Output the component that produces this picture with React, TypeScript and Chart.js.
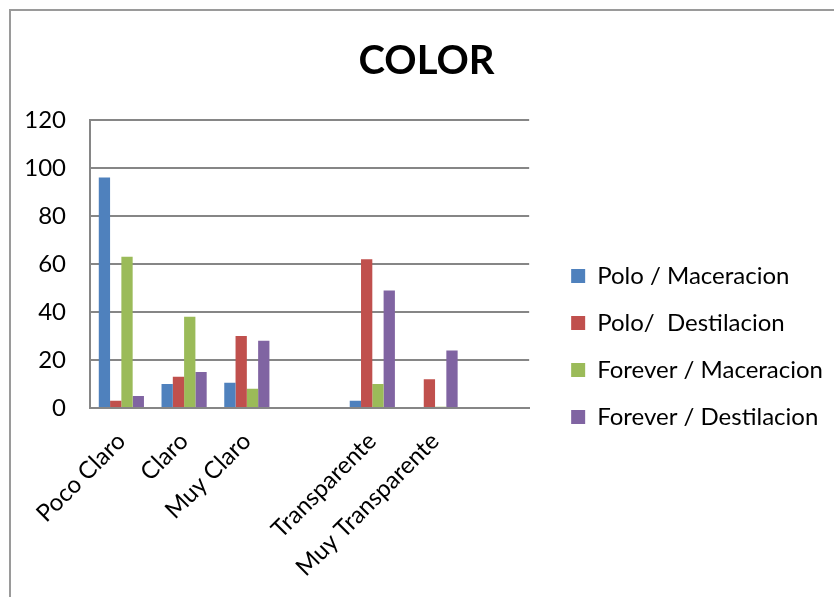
import React, { useEffect, useRef } from 'react';
import { Chart, registerables } from 'chart.js';

Chart.register(...registerables);

const categories = ['Poco Claro', 'Claro', 'Muy Claro', '', 'Transparente', 'Muy Transparente', ''];
const poloMaceracion = [96, 10, 10.5, null, 3, 0, null];
const poloDestilacion = [3, 13, 30, null, 62, 12, null];
const foreverMaceracion = [63, 38, 8, null, 10, 0.5, null];
const foreverDestilacion = [5, 15, 28, null, 49, 24, null];
const seriesNames = ['Polo / Maceracion', 'Polo/  Destilacion', 'Forever / Maceracion', 'Forever / Destilacion'];
const seriesColors = ['#4F81BD', '#C0504D', '#9BBB59', '#8064A2'];
const yMin = 0;
const yMax = 120;
const yStep = 20;
const chartTitle = 'COLOR';

const FONT = 'Lato, "Open Sans", sans-serif';

const framePlugin = {
  id: 'frame',
  beforeDraw(chart: any) {
    const ctx = chart.ctx;
    ctx.save();
    ctx.strokeStyle = '#9a9a9a';
    ctx.lineWidth = 2;
    ctx.beginPath();
    ctx.moveTo(10, chart.height);
    ctx.lineTo(10, 10);
    ctx.lineTo(chart.width, 10);
    ctx.stroke();
    ctx.restore();
  },
};

export default function App() {
  const canvasRef = useRef<HTMLCanvasElement | null>(null);

  useEffect(() => {
    const canvas = canvasRef.current;
    if (!canvas) return;
    const allSeries = [poloMaceracion, poloDestilacion, foreverMaceracion, foreverDestilacion];
    const chart = new Chart(canvas, {
      type: 'bar',
      data: {
        labels: categories,
        datasets: allSeries.map((values, i) => ({
          label: seriesNames[i],
          data: values,
          backgroundColor: seriesColors[i],
          borderWidth: 0,
          categoryPercentage: 0.72,
          barPercentage: 1,
          yAxisID: 'y',
        })),
      },
      options: {
        responsive: false,
        animation: false,
        devicePixelRatio: 1,
        layout: { padding: { left: 20, right: 1, top: 0, bottom: 0 } },
        plugins: {
          tooltip: { enabled: false },
          title: {
            display: true,
            text: chartTitle,
            color: '#000',
            font: { family: FONT, size: 40, weight: 'bold' },
            padding: { top: 37, bottom: 35 },
          },
          legend: {
            position: 'right',
            align: 'center',
            maxWidth: 320,
            title: { display: true, text: ' ', font: { size: 1 }, padding: { top: 95, bottom: 0 } },
            labels: {
              boxWidth: 14,
              boxHeight: 14,
              padding: 23,
              color: '#000',
              font: { family: FONT, size: 24 },
            },
          },
        },
        scales: {
          x: {
            grid: { display: false, drawTicks: false },
            border: { display: true, color: '#868686', width: 2 },
            ticks: {
              autoSkip: false,
              minRotation: 45,
              maxRotation: 45,
              padding: 19,
              color: '#000',
              font: { family: FONT, size: 24 },
            },
            afterFit: (s: any) => { s.height = 189; },
          },
          y: {
            min: yMin,
            max: yMax,
            ticks: { stepSize: yStep, padding: 24, color: '#000', font: { family: FONT, size: 24 } },
            grid: { color: '#868686', lineWidth: 2, drawTicks: false },
            border: { display: true, color: '#868686', width: 2 },
            afterFit: (s: any) => { s.width = 70; },
          },
          yPad: {
            position: 'right',
            display: true,
            grid: { display: false, drawTicks: false },
            ticks: { display: false },
            border: { display: false },
            afterFit: (s: any) => { s.width = 19; },
          },
        },
      },
      plugins: [framePlugin],
    } as any);
    return () => chart.destroy();
  }, []);

  return (
    <div style={{ position: 'fixed', left: 0, top: 0, width: 834, height: 597, background: '#fff' }}>
      <canvas ref={canvasRef} width={834} height={597} style={{ display: 'block', width: 834, height: 597 }} />
    </div>
  );
}
